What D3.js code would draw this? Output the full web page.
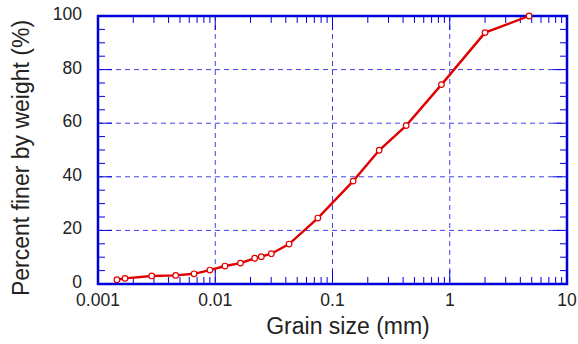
<!DOCTYPE html>
<html><head><meta charset="utf-8">
<script src="https://cdn.jsdelivr.net/npm/d3@7"></script>
<style>body{margin:0;background:#fff}svg{display:block}text{font-family:Arial,"Liberation Sans",sans-serif;fill:#222}</style>
</head><body>
<script>
const grainSize = [0.00145,0.0017,0.00287,0.0046,0.0066,0.009,0.0121,0.0164,0.0217,0.0247,0.0301,0.0426,0.075,0.15,0.25,0.425,0.85,2.0,4.75];
const percentFiner = [1.6,2.1,3.0,3.2,3.8,5.2,6.7,7.8,9.6,10.2,11.3,14.9,24.6,38.4,49.9,59.1,74.4,93.8,100];
const xTickValues = [0.001,0.01,0.1,1,10];
const xTickLabels = ["0.001","0.01","0.1","1","10"];
const yTickValues = [0,20,40,60,80,100];
const yTickLabels = ["0","20","40","60","80","100"];

const W=578,H=344, L=98,R=567,T=16,B=284;
const svg=d3.select("body").append("svg").attr("width",W).attr("height",H);
const x=d3.scaleLog().domain([0.001,10]).range([L,R]);
const y=d3.scaleLinear().domain([0,100]).range([B,T]);
const blue="#0000dd";

// gridlines
const g=svg.append("g").attr("stroke",blue).attr("stroke-width",1).attr("stroke-dasharray","5,4").attr("opacity",0.75);
[0.01,0.1,1].forEach(v=>g.append("line").attr("x1",x(v)).attr("x2",x(v)).attr("y1",T).attr("y2",B));
[20,40,60,80].forEach(v=>g.append("line").attr("y1",y(v)).attr("y2",y(v)).attr("x1",L).attr("x2",R));

// minor ticks
const tk=svg.append("g").attr("stroke",blue).attr("stroke-width",1);
const minorX=[];
for(let e=-3;e<1;e++) for(let m=2;m<=9;m++) minorX.push(m*Math.pow(10,e));
minorX.forEach(v=>{
  tk.append("line").attr("x1",x(v)).attr("x2",x(v)).attr("y1",B).attr("y2",B-7);
  tk.append("line").attr("x1",x(v)).attr("x2",x(v)).attr("y1",T).attr("y2",T+7);
});
d3.range(5,100,5).filter(v=>v%20).forEach(v=>{
  tk.append("line").attr("x1",L).attr("x2",L+7).attr("y1",y(v)).attr("y2",y(v));
  tk.append("line").attr("x1",R).attr("x2",R-7).attr("y1",y(v)).attr("y2",y(v));
});
[20,40,60,80].forEach(v=>{
  tk.append("line").attr("x1",L).attr("x2",L+14).attr("y1",y(v)).attr("y2",y(v));
  tk.append("line").attr("x1",R).attr("x2",R-14).attr("y1",y(v)).attr("y2",y(v));
});
[0.01,0.1,1].forEach(v=>{
  tk.append("line").attr("x1",x(v)).attr("x2",x(v)).attr("y1",B).attr("y2",B-14);
  tk.append("line").attr("x1",x(v)).attr("x2",x(v)).attr("y1",T).attr("y2",T+14);
});

// frame
svg.append("rect").attr("x",L).attr("y",T).attr("width",R-L).attr("height",B-T)
  .attr("fill","none").attr("stroke",blue).attr("stroke-width",2.5);

// tick labels
svg.append("g").selectAll("text").data(xTickValues).join("text")
  .attr("x",d=>x(d)).attr("y",306).attr("text-anchor","middle").attr("font-size",17.5)
  .text((d,i)=>xTickLabels[i]);
svg.append("g").selectAll("text").data(yTickValues).join("text")
  .attr("x",82).attr("y",d=>y(d)+4).attr("text-anchor","end").attr("font-size",17.5)
  .text((d,i)=>yTickLabels[i]);

// titles
svg.append("text").attr("x",348).attr("y",334).attr("text-anchor","middle").attr("font-size",23).text("Grain size (mm)");
svg.append("text").attr("transform","translate(29,158) rotate(-90)").attr("text-anchor","middle").attr("font-size",23).text("Percent finer by weight (%)");

// data
const pts=grainSize.map((d,i)=>[d,percentFiner[i]]);
svg.append("path").datum(pts).attr("fill","none").attr("stroke","#e00000").attr("stroke-width",2.4)
  .attr("d",d3.line().x(d=>x(d[0])).y(d=>y(d[1])));
svg.append("g").selectAll("circle").data(pts).join("circle")
  .attr("cx",d=>x(d[0])).attr("cy",d=>y(d[1])).attr("r",2.8)
  .attr("fill","#fff").attr("stroke","#e00000").attr("stroke-width",1.2);
</script>
</body></html>
